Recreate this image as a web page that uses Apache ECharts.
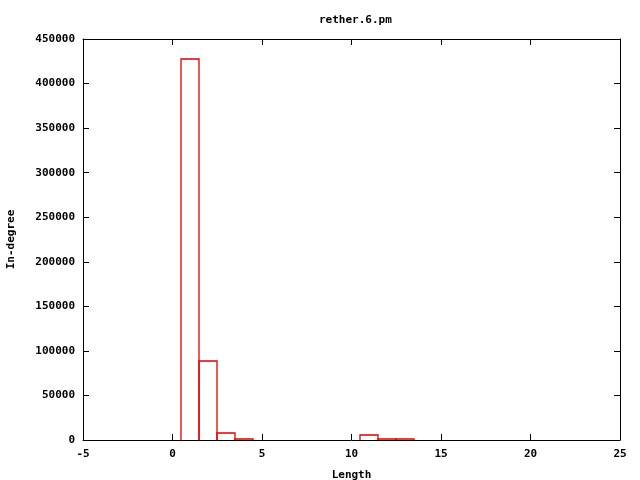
<!DOCTYPE html>
<html>
<head>
<meta charset="utf-8">
<script src="https://cdn.jsdelivr.net/npm/echarts@6/dist/echarts.min.js"></script>
<style>html,body{margin:0;padding:0;background:#fff}#c{width:640px;height:480px}</style>
</head>
<body>
<div id="c"></div>
<script>
const lengths = [1, 2, 3, 4, 11, 12, 13];
const counts = [428000, 88500, 7900, 1100, 5600, 1000, 800];
const xTicks = [-5, 0, 5, 10, 15, 20, 25];
const yTicks = [0, 50000, 100000, 150000, 200000, 250000, 300000, 350000, 400000, 450000];

const FONT = 'DejaVu Sans Mono';
const RED = '#e00000';
const chart = echarts.init(document.getElementById('c'), null, {renderer: 'canvas'});
const tickStyle = {inside: true, length: 6, lineStyle: {color: '#000', width: 1}};
const labelStyle = {color: '#000', fontFamily: FONT, fontWeight: 'bold', fontSize: 11};
const lineStyle = {show: true, onZero: false, lineStyle: {color: '#000', width: 1}};

chart.setOption({
  animation: false,
  backgroundColor: '#fff',
  title: {
    text: 'rether.6.pm', left: 314, top: 10,
    textStyle: {fontFamily: FONT, fontWeight: 'bold', fontSize: 11, color: '#000'}
  },
  grid: {left: 83, right: 20, top: 39, bottom: 40, containLabel: false, outerBoundsMode: 'none', show: false},
  xAxis: [{
    type: 'value', min: -5, max: 25, interval: 5, position: 'bottom',
    name: 'Length', nameLocation: 'middle', nameGap: 30,
    nameTextStyle: labelStyle,
    axisLine: lineStyle,
    axisTick: tickStyle,
    axisLabel: Object.assign({margin: 9, formatter: v => String(v)}, labelStyle),
    splitLine: {show: false}
  }, {
    type: 'value', min: -5, max: 25, interval: 5, position: 'top',
    axisLine: lineStyle,
    axisTick: tickStyle, axisLabel: {show: false}, splitLine: {show: false}
  }],
  yAxis: [{
    type: 'value', min: 0, max: 450000, interval: 50000, position: 'left',
    name: 'In-degree', nameLocation: 'middle', nameGap: 66, nameRotate: 90,
    nameTextStyle: labelStyle,
    axisLine: lineStyle,
    axisTick: tickStyle,
    axisLabel: Object.assign({margin: 8, formatter: v => String(v)}, labelStyle),
    splitLine: {show: false}
  }, {
    type: 'value', min: 0, max: 450000, interval: 50000, position: 'right',
    axisLine: lineStyle,
    axisTick: tickStyle, axisLabel: {show: false}, splitLine: {show: false}
  }],
  series: [{
    type: 'custom',
    xAxisIndex: 0, yAxisIndex: 0,
    clip: true,
    z: 5,
    itemStyle: {color: 'rgba(0,0,0,0)', borderColor: RED, borderWidth: 1},
    data: lengths.map((x, i) => [x, counts[i]]),
    renderItem: function (params, api) {
      const x = api.value(0), y = api.value(1);
      const p0 = api.coord([x - 0.5, 0]);
      const p1 = api.coord([x + 0.5, y]);
      const l = Math.round(p0[0]), r = Math.round(p1[0]);
      const b = Math.round(p0[1]), t = Math.round(p1[1]);
      return {
        type: 'polyline',
        shape: {points: [[l, b], [l, t], [r, t], [r, b]]},
        style: {fill: null, stroke: RED, lineWidth: 1.3}
      };
    }
  }]
});
</script>
</body>
</html>
